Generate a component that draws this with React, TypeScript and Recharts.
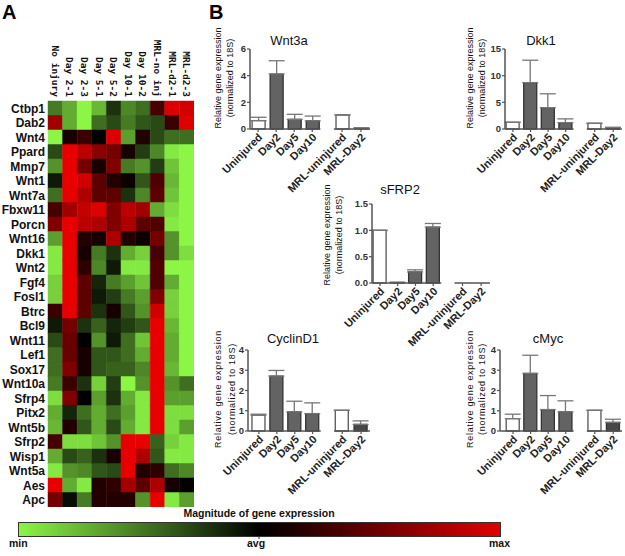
import React from "react";
import { BarChart, Bar, XAxis, YAxis, Cell, ErrorBar, ReferenceLine } from "recharts";

// ---- panel A: heat map ----
const genes = [
  "Ctbp1", "Dab2", "Wnt4", "Ppard", "Mmp7", "Wnt1", "Wnt7a", "Fbxw11", "Porcn", "Wnt16",
  "Dkk1", "Wnt2", "Fgf4", "Fosl1", "Btrc", "Bcl9", "Wnt11", "Lef1", "Sox17", "Wnt10a",
  "Sfrp4", "Pitx2", "Wnt5b", "Sfrp2", "Wisp1", "Wnt5a", "Aes", "Apc",
];
const samples = [
  "No injury", "Day 2-1", "Day 2-3", "Day 5-1", "Day 5-2",
  "Day 10-1", "Day 10-2", "MRL-no inj", "MRL-d2-1", "MRL-d2-3",
];
// -1 = min (green), 0 = avg (black), 1 = max (red)
const heat = [
  [-0.5, -0.7, -1, -0.75, -0.2, -0.55, -0.45, 0.3, 0.95, 0.9],
  [0.7, -0.7, -1, -0.45, -0.3, -0.5, -0.35, -0.3, 0.25, 0.95],
  [-1, 0.1, 0.25, 0.0, 0.95, -0.65, 0.15, -0.3, -0.45, -0.45],
  [-0.3, 1, 0.8, 0.6, 0.5, 0.1, -0.25, -0.55, -0.95, -1],
  [-0.6, 1, 0.5, 0.1, 0.55, -0.5, -0.6, -0.25, -0.8, -1],
  [-0.1, 1, 0.9, 0.4, 0.15, 0.05, -0.35, 0.35, -0.75, -1],
  [-0.45, 1, 0.75, 0.4, 0.4, -0.2, -0.55, 0.4, -0.8, -1],
  [0.3, 0.7, 0.85, 0.95, 0.55, 0.8, 0.7, -0.7, -0.9, -1],
  [0.55, 1, 0.8, 0.75, 0.55, 0.75, 0.4, 0.35, -0.95, -1],
  [-0.65, 1, 0.15, 0.1, 0.75, 0.15, 0.05, 0.5, -0.6, -1],
  [-0.95, 1, 0.1, -0.5, -0.2, -0.7, -0.85, 0.3, -0.6, -0.9],
  [-0.95, 1, 0.2, -0.55, -0.1, -0.95, -0.95, 0.35, -1, -1],
  [-0.85, 1, 0.4, -0.15, -0.5, -0.65, -0.8, 0.35, -0.7, -1],
  [-0.85, 1, 0.4, -0.1, -0.25, -0.5, -0.65, 0.55, -0.85, -1],
  [0.25, 1, 0.4, -0.2, 0.1, -0.35, -0.6, 0.9, -0.85, -1],
  [-0.1, 0.5, -0.2, -0.4, -0.15, -0.25, -0.35, 1, -0.75, -1],
  [-0.3, 0.45, 0.0, -0.6, -0.1, -0.45, -0.8, 1, -0.7, -1],
  [-0.45, 0.45, 0.1, -0.35, -0.35, -0.45, -0.7, 1, -0.7, -1],
  [-0.45, 0.55, 0.1, -0.35, -0.4, -0.4, -0.55, 1, -0.75, -1],
  [-0.5, 0.25, -0.2, -0.85, -0.25, -1, -0.6, 1, -0.6, -0.45],
  [-0.9, 0.55, 0.0, -0.65, -0.2, -0.7, -0.95, 1, -0.65, -0.65],
  [-0.7, -0.15, -0.45, -0.7, -0.45, -0.65, -0.95, 1, -0.9, -0.9],
  [-0.75, 0.15, -0.35, -0.7, -0.3, -0.7, -0.95, 1, -0.9, -0.65],
  [0.3, -0.9, -0.9, -0.8, -0.6, 1, 1, -0.4, -0.85, -0.95],
  [-0.7, -0.3, -0.4, -0.2, 0.1, 1, 0.75, -0.35, -0.95, -0.95],
  [-0.95, -0.6, -0.55, -0.35, -0.3, 1, 0.15, 0.2, -0.45, -0.55],
  [1, -0.7, -0.95, 0.15, 0.2, 0.7, 0.4, 0.75, 0.1, 0.02],
  [0.5, -0.05, -0.5, 0.15, 0.15, 0.15, -0.6, 1, -0.95, -0.65],
];

// ---- panel B: qPCR bars ----
const groups = ["Uninjured", "Day2", "Day5", "Day10", "MRL-uninjured", "MRL-Day2"];
const groupPos = [1, 2, 3, 4, 5.65, 6.7];

const wnt3aMean = [0.63, 4.12, 0.72, 0.6, 1.05, 0.05];
const wnt3aSem = [0.25, 1.0, 0.38, 0.37, 0, 0.04];
const dkk1Mean = [1.25, 8.7, 4.0, 1.2, 1.06, 0.25];
const dkk1Sem = [0, 4.2, 2.6, 0.7, 0, 0.08];
const sfrp2Mean = [1.0, 0.01, 0.21, 1.06, 0, 0];
const sfrp2Sem = [0, 0, 0.04, 0.07, 0, 0];
const cyclinMean = [0.78, 2.71, 0.94, 0.86, 1.02, 0.32];
const cyclinSem = [0.05, 0.28, 0.53, 0.53, 0, 0.18];
const cmycMean = [0.61, 2.84, 1.06, 0.94, 1.02, 0.42];
const cmycSem = [0.22, 0.9, 0.69, 0.55, 0, 0.16];

const GREEN = [140, 245, 70];
const RED = [232, 0, 0];
function heatColor(v: number) {
  const c = v < 0 ? GREEN : RED;
  const t = Math.min(1, Math.abs(v));
  return `rgb(${Math.round(c[0] * t)},${Math.round(c[1] * t)},${Math.round(c[2] * t)})`;
}

const heatRows = genes.map((g) => {
  const row: any = { gene: g };
  samples.forEach((_, j) => (row[`s${j}`] = 1));
  return row;
});

const SANS = "'Liberation Sans', Arial, sans-serif";

function SampleTick(props: any) {
  const { x, y, payload } = props;
  const j = Math.floor(payload.value);
  return (
    <text x={x} y={y} transform={`rotate(90 ${x} ${y})`} textAnchor="end" dominantBaseline="central"
      fontSize={9.5} fontWeight={700} fontFamily="'DejaVu Sans Mono', monospace" fill="#111">
      {samples[j]}
    </text>
  );
}

function HeatMap() {
  return (
    <div style={{ position: "absolute", left: 0, top: 31 }}>
      <BarChart layout="vertical" width={194} height={476} data={heatRows}
        margin={{ top: 0, right: 0, bottom: 0, left: 0 }} barCategoryGap={0}>
        <XAxis type="number" orientation="top" domain={[0, 10]} ticks={samples.map((_, j) => j + 0.5)}
          height={70} axisLine={false} tickLine={false} tickSize={0} tickMargin={4} interval={0} tick={SampleTick} />
        <YAxis type="category" dataKey="gene" width={48} axisLine={false} tickLine={false} tickSize={0}
          tickMargin={3} interval={0} tick={{ fontSize: 12, fontWeight: 700, fill: "#111", fontFamily: SANS }} />
        {samples.map((s, j) => (
          <Bar key={s} dataKey={`s${j}`} stackId="h" isAnimationActive={false}>
            {genes.map((g, i) => (
              <Cell key={g} fill={heatColor(heat[i][j])} stroke={heatColor(heat[i][j])} strokeWidth={0.5} />
            ))}
          </Bar>
        ))}
      </BarChart>
    </div>
  );
}

function GroupTick(props: any) {
  const { x, y, payload } = props;
  const i = groupPos.indexOf(payload.value);
  const px = x + 5;
  const py = y + 4;
  return (
    <text x={px} y={py} transform={`rotate(-45 ${px} ${py})`} textAnchor="end"
      fontSize={11} fontWeight={700} fill="#222" fontFamily={SANS}>
      {groups[i]}
    </text>
  );
}

type ChartProps = {
  mean: number[]; sem: number[]; yTicks: number[]; fmt?: (v: number) => string;
  left: number; top: number; plotW: number; plotH: number; xMin: number;
};

function ExprChart({ mean, sem, yTicks, fmt, left, top, plotW, plotH, xMin }: ChartProps) {
  const data = groups.map((g, i) => ({ name: g, pos: groupPos[i], mean: mean[i], err: [0, sem[i]] }));
  const axis = "#555";
  return (
    <div style={{ position: "absolute", left: left - 40, top: top - 6 }}>
      <BarChart width={40 + plotW + 3} height={6 + plotH + 70} data={data}
        margin={{ top: 6, right: 3, left: 0, bottom: 0 }} style={{ overflow: "visible" }}>
        <XAxis type="number" dataKey="pos" domain={[xMin, 7.2]} allowDataOverflow ticks={groupPos}
          height={70} axisLine={false} tickLine={{ stroke: axis, strokeWidth: 1.2 }} tickSize={3}
          interval={0} tick={GroupTick} />
        <YAxis type="number" domain={[0, yTicks[yTicks.length - 1]]} ticks={yTicks} width={40}
          axisLine={{ stroke: axis, strokeWidth: 1.5 }} tickLine={{ stroke: axis, strokeWidth: 1.2 }} tickSize={3}
          tickMargin={1} interval={0} tickFormatter={fmt}
          tick={{ fontSize: 9.5, fontWeight: 700, fill: "#333", fontFamily: SANS }} />
        <Bar dataKey="mean" barSize={13} isAnimationActive={false}>
          {data.map((d) => {
            const control = d.name.endsWith("ninjured");
            const fill = control ? "#ffffff" : d.name === "MRL-Day2" ? "#474747" : "#636363";
            return <Cell key={d.name} fill={fill} stroke={control ? "#555" : "#333"} strokeWidth={1.3} />;
          })}
          <ErrorBar dataKey="err" width={8} stroke="#777" strokeWidth={1.3} direction="y" />
        </Bar>
        <ReferenceLine segment={[{ x: xMin, y: 0 }, { x: 4.45, y: 0 }]} stroke={axis} strokeWidth={1.5} ifOverflow="visible" />
        <ReferenceLine segment={[{ x: 5.2, y: 0 }, { x: 7.2, y: 0 }]} stroke={axis} strokeWidth={1.5} ifOverflow="visible" />
      </BarChart>
    </div>
  );
}

function YTitle({ x1, x2, cy, spacing = 0 }: { x1: number; x2: number; cy: number; spacing?: number }) {
  const common = { fontSize: 9, fill: "#111", textAnchor: "middle" as const, dominantBaseline: "central" as const, letterSpacing: spacing };
  return (
    <g>
      <text x={x1} y={cy} transform={`rotate(-90 ${x1} ${cy})`} {...common}>Relative gene expression</text>
      <text x={x2} y={cy} transform={`rotate(-90 ${x2} ${cy})`} {...common}>(normalized to 18S)</text>
    </g>
  );
}

function Overlay() {
  const title = { fontSize: 13, fill: "#111", textAnchor: "middle" as const };
  return (
    <svg width={625} height={556} style={{ position: "absolute", left: 0, top: 0, pointerEvents: "none" }} fontFamily={SANS}>
      <text x={2} y={19} fontSize={20} fontWeight={700}>A</text>
      <text x={209} y={19} fontSize={20} fontWeight={700}>B</text>
      <text x={289} y={45} {...title}>Wnt3a</text>
      <text x={541} y={45} {...title}>Dkk1</text>
      <text x={400} y={194} {...title}>sFRP2</text>
      <text x={293} y={343} {...title}>CyclinD1</text>
      <text x={548} y={343} {...title}>cMyc</text>
      <YTitle x1={218} x2={230} cy={78} />
      <YTitle x1={470} x2={482} cy={78} />
      <YTitle x1={327} x2={339} cy={235} />
      <YTitle x1={218} x2={232} cy={389} spacing={0.7} />
      <YTitle x1={470} x2={482} cy={389} spacing={0.7} />
      <text x={259} y={517} fontSize={10.5} fontWeight={700} textAnchor="middle" fill="#111">Magnitude of gene expression</text>
      <line x1={259} y1={536} x2={259} y2={539} stroke="#333" />
      <text x={9} y={547} fontSize={10.5} fontWeight={700} fill="#111">min</text>
      <text x={256} y={547} fontSize={10.5} fontWeight={700} textAnchor="middle" fill="#111">avg</text>
      <text x={510} y={547} fontSize={10.5} fontWeight={700} textAnchor="end" fill="#111">max</text>
    </svg>
  );
}

export default function App() {
  const one = (v: number) => v.toFixed(1);
  return (
    <div style={{ position: "fixed", left: 0, top: 0, width: 625, height: 556, background: "#fff", overflow: "hidden", fontFamily: SANS }}>
      <HeatMap />
      <ExprChart mean={wnt3aMean} sem={wnt3aSem} yTicks={[0, 2, 4, 6]} left={250} top={49} plotW={120} plotH={80} xMin={0.55} />
      <ExprChart mean={dkk1Mean} sem={dkk1Sem} yTicks={[0, 5, 10, 15]} left={505} top={49} plotW={117} plotH={80} xMin={0.55} />
      <ExprChart mean={sfrp2Mean} sem={sfrp2Sem} yTicks={[0, 0.5, 1, 1.5]} fmt={one} left={372} top={204} plotW={118} plotH={79} xMin={0.55} />
      <ExprChart mean={cyclinMean} sem={cyclinSem} yTicks={[0, 1, 2, 3, 4]} left={248} top={350} plotW={122} plotH={81} xMin={0.39} />
      <ExprChart mean={cmycMean} sem={cmycSem} yTicks={[0, 1, 2, 3, 4]} left={500} top={350} plotW={122} plotH={81} xMin={0.26} />
      <div style={{
        position: "absolute", left: 18, top: 522, width: 481, height: 13, border: "1px solid #333",
        background: "linear-gradient(to right, rgb(140,245,70), #000 50%, rgb(225,0,0))",
      }} />
      <Overlay />
    </div>
  );
}
